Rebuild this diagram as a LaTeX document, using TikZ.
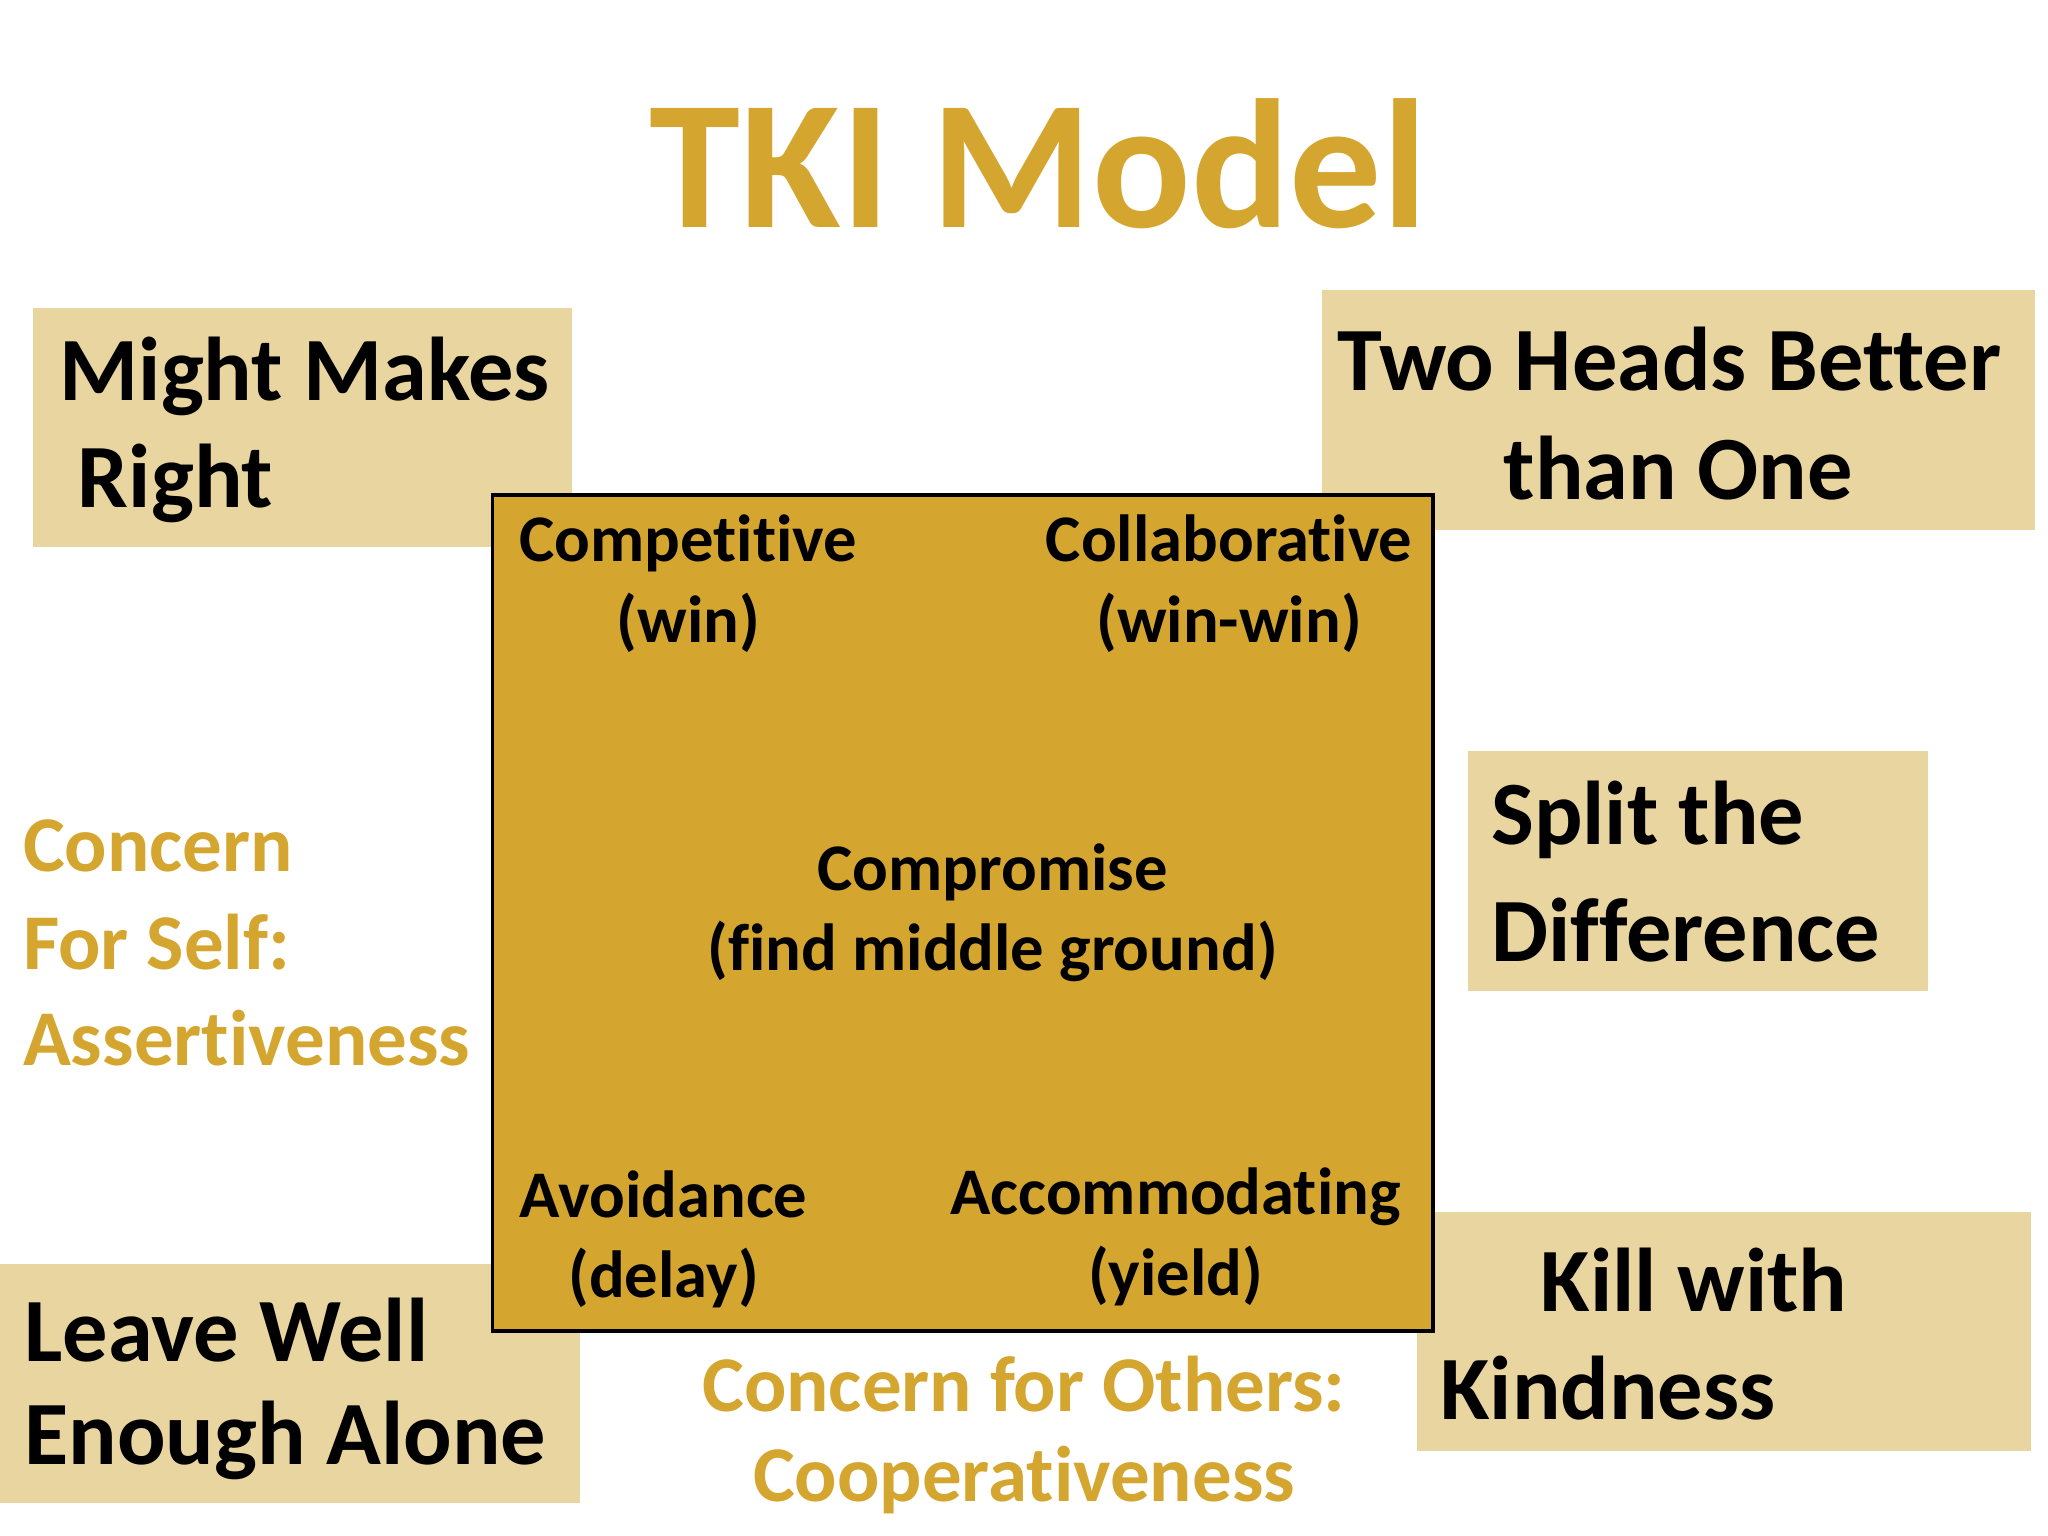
\documentclass[tikz,border=0pt]{standalone}
\usepackage{fontspec}
\setmainfont{Carlito}[Ligatures=NoCommon]
\definecolor{gold}{HTML}{D4A52F}
\definecolor{pale}{HTML}{E9D5A0}
\begin{document}
\begin{tikzpicture}[x=0.01cm,y=-0.01cm,
  pbox/.style={fill=pale,draw=none},
  big/.style={font=\fontsize{19.7}{24}\selectfont\bfseries,align=left,inner sep=0pt},
  inner/.style={font=\fontsize{14.5}{17.5}\selectfont\bfseries,align=center},
  side/.style={font=\fontsize{17.2}{21}\selectfont\bfseries,text=gold,inner sep=0pt}]
\useasboundingbox (0,0) rectangle (1568,1176);
\node[font=\fontsize{40}{48}\selectfont\bfseries,text=gold] (title) at (795,125) {TKI Model};
\fill[pbox] (25,236) rectangle (438,419);
\fill[pbox] (1012,222) rectangle (1558,406);
\fill[pbox] (1124,575) rectangle (1476,759);
\fill[pbox] (1085,928) rectangle (1555,1111);
\fill[pbox] (0,968) rectangle (444,1151);
\node[big,anchor=west] (mm) at (45,288) {Might Makes};
\node[big,anchor=west] (mr) at (59,370) {Right};
\node[big] (th) at (1278,275) {Two Heads Better};
\node[big] (to) at (1285,358) {than One};
\node[big,anchor=west] (st) at (1141,628) {Split the};
\node[big,anchor=west] (sd) at (1141,712) {Difference};
\node[big] (kw) at (1297,980) {Kill with};
\node[big,anchor=west] (kk) at (1102,1063) {Kindness};
\node[big,anchor=west] (lw) at (18,1018) {Leave Well};
\node[big,anchor=west] (le) at (18,1103) {Enough Alone};
\draw[fill=gold,line width=0.8pt] (377,379) rectangle (1097,1019);
\node[inner] (comp) at (527,447) {Competitive\\(win)};
\node[inner] (coll) at (941,447) {Collaborative\\(win-win)};
\node[inner] (cmp) at (760,699) {Compromise\\(find middle ground)};
\node[inner] (av) at (508,949) {Avoidance\\(delay)};
\node[inner] (acc) at (900,947) {Accommodating\\(yield)};
\node[side,anchor=west] (c1) at (17,648) {Concern};
\node[side,anchor=west] (c2) at (17,721) {For Self:};
\node[side,anchor=west] (c3) at (17,795) {Assertiveness};
\node[side] (o1) at (784,1060) {Concern for Others:};
\node[side] (o2) at (784,1133) {Cooperativeness};
\end{tikzpicture}
\end{document}
